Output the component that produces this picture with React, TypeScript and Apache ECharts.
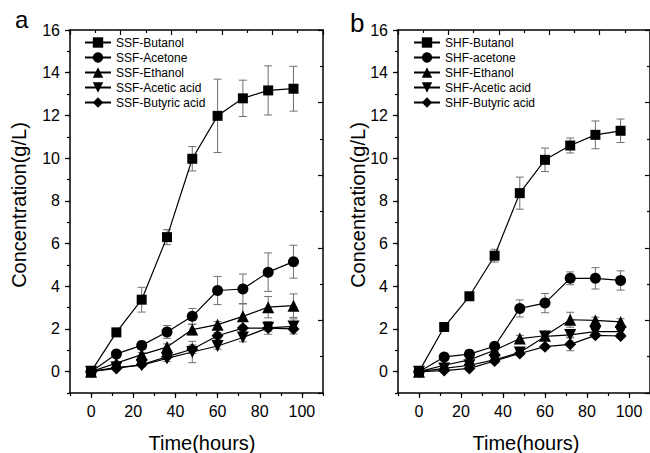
import React, { useEffect, useRef } from 'react';
import * as echarts from 'echarts';

const hours = [0, 12, 24, 36, 48, 60, 72, 84, 96];
const ssfNames = ['SSF-Butanol', 'SSF-Acetone', 'SSF-Ethanol', 'SSF-Acetic acid', 'SSF-Butyric acid'];
const shfNames = ['SHF-Butanol', 'SHF-acetone', 'SHF-Ethanol', 'SHF-Acetic acid', 'SHF-Butyric acid'];

const ssfButanol = [0, 1.84, 3.37, 6.3, 9.97, 11.98, 12.8, 13.17, 13.25];
const ssfAcetone = [0, 0.83, 1.23, 1.86, 2.59, 3.8, 3.87, 4.66, 5.15];
const ssfEthanol = [0, 0.4, 0.8, 1.15, 1.97, 2.2, 2.59, 3.02, 3.09];
const ssfAcetic = [0, 0.2, 0.3, 0.62, 0.92, 1.2, 1.6, 2.05, 2.12];
const ssfButyric = [0, 0.15, 0.33, 0.7, 1.05, 1.68, 2.04, 2.04, 2.0];

const ssfButanolErr = [0, 0.12, 0.58, 0.35, 0.57, 1.72, 0.85, 1.15, 1.05];
const ssfAcetoneErr = [0, 0.1, 0.12, 0.3, 0.37, 0.66, 0.7, 0.9, 0.77];
const ssfEthanolErr = [0, 0.05, 0.1, 0.15, 0.25, 0.15, 0.6, 0.5, 0.55];
const ssfAceticErr = [0, 0.05, 0.05, 0.15, 0.5, 0.15, 0.2, 0.3, 0.35];
const ssfButyricErr = [0, 0.05, 0.1, 0.1, 0.2, 0.15, 0.1, 0.15, 0.1];

const shfButanol = [0, 2.09, 3.53, 5.43, 8.36, 9.92, 10.59, 11.09, 11.28];
const shfAcetone = [0, 0.69, 0.82, 1.19, 2.96, 3.21, 4.37, 4.37, 4.27];
const shfEthanol = [0, 0.3, 0.55, 1.0, 1.55, 1.68, 2.43, 2.4, 2.33];
const shfAcetic = [0, 0.15, 0.3, 0.55, 0.9, 1.65, 1.72, 1.87, 1.87];
const shfButyric = [0, 0.05, 0.15, 0.5, 0.85, 1.17, 1.28, 1.7, 1.67];

const shfButanolErr = [0, 0.15, 0.1, 0.3, 0.75, 0.55, 0.35, 0.65, 0.55];
const shfAcetoneErr = [0, 0.1, 0.1, 0.15, 0.4, 0.45, 0.3, 0.5, 0.45];
const shfEthanolErr = [0, 0.05, 0.1, 0.1, 0.15, 0.1, 0.35, 0.15, 0.15];
const shfAceticErr = [0, 0.05, 0.05, 0.1, 0.1, 0.1, 0.1, 0.1, 0.1];
const shfButyricErr = [0, 0.05, 0.05, 0.1, 0.1, 0.1, 0.3, 0.1, 0.1];

const xTickLabels = [0, 20, 40, 60, 80, 100];
const yTickLabels = [0, 2, 4, 6, 8, 10, 12, 14, 16];

const FONT = "'Liberation Sans', Arial, sans-serif";
const symbols = ['rect', 'circle', 'triangle', 'path://M0,0L10,0L5,8.66Z', 'diamond'];
const symbolSizes = [10, 11, 12, 12, 12];

const panels = [
  {
    names: ssfNames,
    values: [ssfButanol, ssfAcetone, ssfEthanol, ssfAcetic, ssfButyric],
    errs: [ssfButanolErr, ssfAcetoneErr, ssfEthanolErr, ssfAceticErr, ssfButyricErr],
  },
  {
    names: shfNames,
    values: [shfButanol, shfAcetone, shfEthanol, shfAcetic, shfButyric],
    errs: [shfButanolErr, shfAcetoneErr, shfEthanolErr, shfAceticErr, shfButyricErr],
  },
];

const grids = [
  { left: 70, top: 30, width: 253, height: 363 },
  { left: 398, top: 30, width: 252, height: 363 },
];

function buildOption() {
  const black = '#000';
  const axisLine = { show: true, onZero: false, lineStyle: { color: black, width: 1.5 } };
  const xAxis: any[] = [];
  const yAxis: any[] = [];
  const series: any[] = [];
  const legend: any[] = [];

  panels.forEach((p, gi) => {
    xAxis.push({
      type: 'value', gridIndex: gi, position: 'bottom', min: -10, max: 110, interval: 10,
      axisLine, axisTick: { show: true, length: 3, lineStyle: { color: black, width: 1.2 } },
      axisLabel: { show: false }, splitLine: { show: false },
    });
    xAxis.push({
      type: 'value', gridIndex: gi, position: 'bottom', min: -10, max: 110, interval: 10,
      axisLine: { show: false, onZero: false },
      axisTick: { show: true, length: 5, customValues: xTickLabels, lineStyle: { color: black, width: 1.2 } },
      axisLabel: { show: true, customValues: xTickLabels, fontSize: 16, color: black, fontFamily: FONT, margin: 10 },
      splitLine: { show: false },
    });
    xAxis.push({
      type: 'value', gridIndex: gi, position: 'top', min: 0, max: 10, interval: 2,
      axisLine, axisTick: { show: true, inside: true, length: 5, lineStyle: { color: black, width: 1.2 } },
      minorTick: { show: true, splitNumber: 2, length: 3, lineStyle: { color: black, width: 1.2 } },
      axisLabel: { show: false }, splitLine: { show: false }, minorSplitLine: { show: false },
    });
    yAxis.push({
      type: 'value', gridIndex: gi, position: 'left', min: -1, max: 16, interval: 1,
      axisLine, axisTick: { show: true, length: 3, lineStyle: { color: black, width: 1.2 } },
      axisLabel: { show: false }, splitLine: { show: false },
    });
    yAxis.push({
      type: 'value', gridIndex: gi, position: 'left', min: -1, max: 16, interval: 1,
      axisLine: { show: false, onZero: false },
      axisTick: { show: true, length: 5, customValues: yTickLabels, lineStyle: { color: black, width: 1.2 } },
      axisLabel: { show: true, customValues: yTickLabels, fontSize: 16, color: black, fontFamily: FONT, margin: 10 },
      splitLine: { show: false },
    });
    yAxis.push({
      type: 'value', gridIndex: gi, position: 'right', min: 0, max: 10, interval: 2,
      axisLine, axisTick: { show: true, inside: true, length: 5, lineStyle: { color: black, width: 1.2 } },
      minorTick: { show: true, splitNumber: 2, length: 3, lineStyle: { color: black, width: 1.2 } },
      axisLabel: { show: false }, splitLine: { show: false }, minorSplitLine: { show: false },
    });

    const xi = gi * 3;
    const yi = gi * 3;

    p.names.forEach((name, si) => {
      const vals = p.values[si];
      const errs = p.errs[si];
      series.push({
        type: 'custom',
        name: name + ' err',
        xAxisIndex: xi,
        yAxisIndex: yi,
        z: 1,
        silent: true,
        encode: { x: 0, y: [1, 2] },
        data: hours.map((h, i) => [h, vals[i] - errs[i], vals[i] + errs[i]]),
        renderItem: (params: any, api: any) => {
          const x = api.value(0);
          const lo = api.coord([x, api.value(1)]);
          const hi = api.coord([x, api.value(2)]);
          const w = 4;
          const st = { stroke: '#707070', lineWidth: 1 };
          return {
            type: 'group',
            children: [
              { type: 'line', shape: { x1: hi[0], y1: hi[1], x2: lo[0], y2: lo[1] }, style: st },
              { type: 'line', shape: { x1: hi[0] - w, y1: hi[1], x2: hi[0] + w, y2: hi[1] }, style: st },
              { type: 'line', shape: { x1: lo[0] - w, y1: lo[1], x2: lo[0] + w, y2: lo[1] }, style: st },
            ],
          };
        },
      });
      series.push({
        type: 'line',
        name,
        xAxisIndex: xi,
        yAxisIndex: yi,
        z: 3,
        data: hours.map((h, i) => [h, vals[i]]),
        symbol: symbols[si],
        symbolSize: symbolSizes[si],
        showSymbol: true,
        itemStyle: { color: black, borderWidth: 0 },
        lineStyle: { color: black, width: 1.2 },
      });
    });

    legend.push({
      data: p.names,
      orient: 'vertical',
      left: gi === 0 ? 84 : 413,
      top: 36,
      itemWidth: 26,
      itemHeight: 13,
      itemGap: 2,
      padding: 0,
      selectedMode: false,
      textStyle: { fontSize: 12, color: black, fontFamily: FONT, lineHeight: 13 },
    });
  });

  const graphic = [
    { type: 'text', left: 15, top: 7, style: { text: 'a', font: `24px ${FONT}`, fill: black } },
    { type: 'text', left: 350, top: 10, style: { text: 'b', font: `26px ${FONT}`, fill: black } },
    {
      type: 'text', x: 19, y: 205, rotation: Math.PI / 2,
      style: { text: 'Concentration(g/L)', font: `20px ${FONT}`, fill: black, align: 'center', verticalAlign: 'middle' },
    },
    {
      type: 'text', x: 358, y: 205, rotation: Math.PI / 2,
      style: { text: 'Concentration(g/L)', font: `20px ${FONT}`, fill: black, align: 'center', verticalAlign: 'middle' },
    },
    {
      type: 'text', x: 202, y: 443,
      style: { text: 'Time(hours)', font: `20px ${FONT}`, fill: black, align: 'center', verticalAlign: 'middle' },
    },
    {
      type: 'text', x: 526, y: 443,
      style: { text: 'Time(hours)', font: `20px ${FONT}`, fill: black, align: 'center', verticalAlign: 'middle' },
    },
  ];

  return {
    animation: false,
    backgroundColor: '#fff',
    textStyle: { fontFamily: FONT },
    grid: grids,
    xAxis,
    yAxis,
    legend,
    series,
    graphic,
  };
}

export default function App() {
  const ref = useRef<HTMLDivElement>(null);
  useEffect(() => {
    if (!ref.current) return;
    const chart = echarts.init(ref.current, undefined, { renderer: 'svg' });
    chart.setOption(buildOption() as any);
    return () => chart.dispose();
  }, []);
  return (
    <div
      ref={ref}
      style={{ position: 'fixed', left: 0, top: 0, width: 650, height: 453, background: '#fff' }}
    />
  );
}
